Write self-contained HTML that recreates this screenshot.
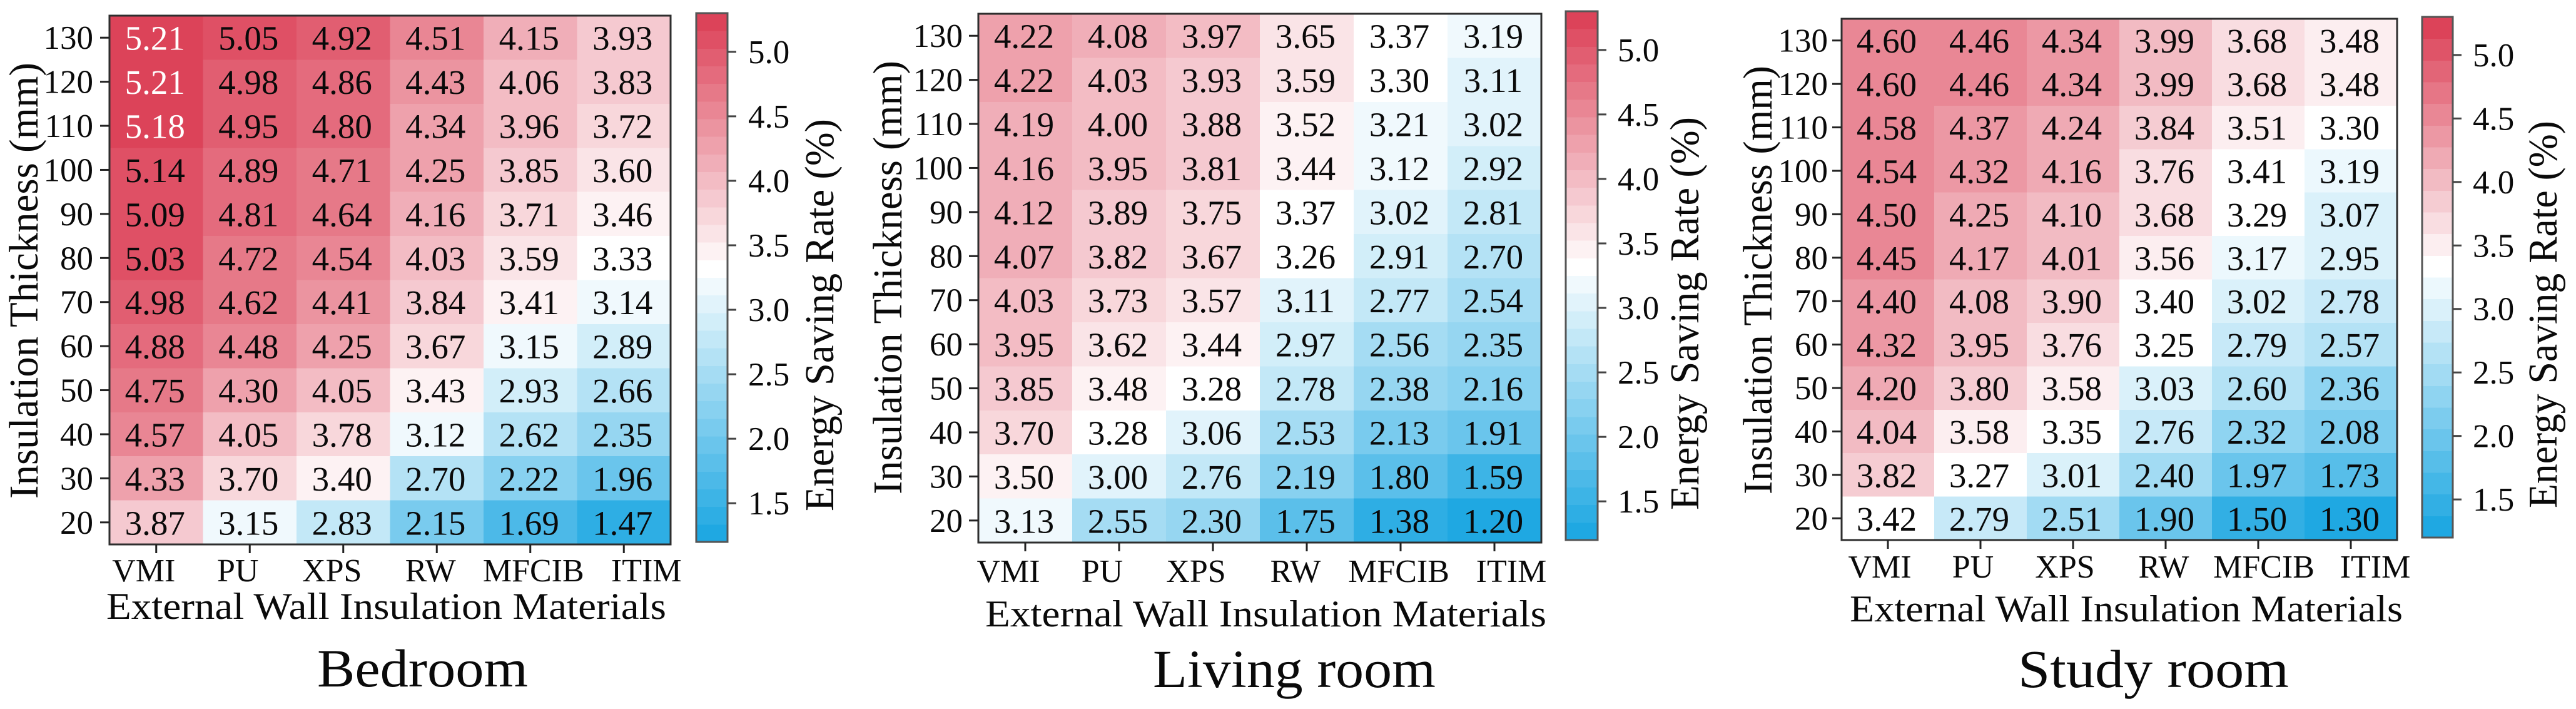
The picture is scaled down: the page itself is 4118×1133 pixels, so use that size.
<!DOCTYPE html>
<html lang="en">
<head>
<meta charset="utf-8">
<title>Energy saving rate heatmaps</title>
<style>
html,body{margin:0;padding:0;background:#fff;}
svg{display:block;}
text{font-family:"Liberation Serif","Times New Roman",serif;fill:#0a0a0a;}
</style>
</head>
<body>
<svg id="figure" xmlns="http://www.w3.org/2000/svg" width="4118" height="1133" viewBox="0 0 4118 1133">
  <rect x="0" y="0" width="4118" height="1133" fill="#fff"/>
  <g id="panel-bedroom"></g>
  <g id="panel-living"></g>
  <g id="panel-study"></g>
</svg>
<script>
const materials = ["VMI", "PU", "XPS", "RW", "MFCIB", "ITIM"];
const thicknesses = [130, 120, 110, 100, 90, 80, 70, 60, 50, 40, 30, 20];
const colorbarTicks = [5.0, 4.5, 4.0, 3.5, 3.0, 2.5, 2.0, 1.5];
const colorMin = 1.2;
const colorMax = 5.3;

const bedroomValues = [
  [5.21, 5.05, 4.92, 4.51, 4.15, 3.93],
  [5.21, 4.98, 4.86, 4.43, 4.06, 3.83],
  [5.18, 4.95, 4.80, 4.34, 3.96, 3.72],
  [5.14, 4.89, 4.71, 4.25, 3.85, 3.60],
  [5.09, 4.81, 4.64, 4.16, 3.71, 3.46],
  [5.03, 4.72, 4.54, 4.03, 3.59, 3.33],
  [4.98, 4.62, 4.41, 3.84, 3.41, 3.14],
  [4.88, 4.48, 4.25, 3.67, 3.15, 2.89],
  [4.75, 4.30, 4.05, 3.43, 2.93, 2.66],
  [4.57, 4.05, 3.78, 3.12, 2.62, 2.35],
  [4.33, 3.70, 3.40, 2.70, 2.22, 1.96],
  [3.87, 3.15, 2.83, 2.15, 1.69, 1.47]
];
const livingRoomValues = [
  [4.22, 4.08, 3.97, 3.65, 3.37, 3.19],
  [4.22, 4.03, 3.93, 3.59, 3.30, 3.11],
  [4.19, 4.00, 3.88, 3.52, 3.21, 3.02],
  [4.16, 3.95, 3.81, 3.44, 3.12, 2.92],
  [4.12, 3.89, 3.75, 3.37, 3.02, 2.81],
  [4.07, 3.82, 3.67, 3.26, 2.91, 2.70],
  [4.03, 3.73, 3.57, 3.11, 2.77, 2.54],
  [3.95, 3.62, 3.44, 2.97, 2.56, 2.35],
  [3.85, 3.48, 3.28, 2.78, 2.38, 2.16],
  [3.70, 3.28, 3.06, 2.53, 2.13, 1.91],
  [3.50, 3.00, 2.76, 2.19, 1.80, 1.59],
  [3.13, 2.55, 2.30, 1.75, 1.38, 1.20]
];
const studyRoomValues = [
  [4.60, 4.46, 4.34, 3.99, 3.68, 3.48],
  [4.60, 4.46, 4.34, 3.99, 3.68, 3.48],
  [4.58, 4.37, 4.24, 3.84, 3.51, 3.30],
  [4.54, 4.32, 4.16, 3.76, 3.41, 3.19],
  [4.50, 4.25, 4.10, 3.68, 3.29, 3.07],
  [4.45, 4.17, 4.01, 3.56, 3.17, 2.95],
  [4.40, 4.08, 3.90, 3.40, 3.02, 2.78],
  [4.32, 3.95, 3.76, 3.25, 2.79, 2.57],
  [4.20, 3.80, 3.58, 3.03, 2.60, 2.36],
  [4.04, 3.58, 3.35, 2.76, 2.32, 2.08],
  [3.82, 3.27, 3.01, 2.40, 1.97, 1.73],
  [3.42, 2.79, 2.51, 1.90, 1.50, 1.30]
];

const SVG_NS = "http://www.w3.org/2000/svg";
const RED = [220, 67, 89];
const BLUE = [31, 168, 226];
const WHITE_TEXT_ABOVE = 5.15;

function bandOf(v, bands) {
  const b = Math.floor((v - colorMin) / ((colorMax - colorMin) / bands));
  return Math.max(0, Math.min(bands - 1, b));
}
function bandColor(b, bands) {
  const k = b - bands / 2;
  let end = RED, f = 0;
  if (k > 0) { end = RED; f = k / (bands / 2 - 1); }
  if (k < 0) { end = BLUE; f = -k / (bands / 2); }
  const c = end.map(e => Math.round(255 + (e - 255) * f));
  return "rgb(" + c.join(",") + ")";
}
function make(parent, tag, attrs, content) {
  const el = document.createElementNS(SVG_NS, tag);
  Object.keys(attrs).forEach(k => el.setAttribute(k, attrs[k]));
  if (content !== undefined) el.textContent = content;
  parent.appendChild(el);
  return el;
}

function drawPanel(p) {
  const root = document.getElementById(p.id);
  const cellW = (p.right - p.left) / materials.length;
  const cellH = (p.bottom - p.top) / thicknesses.length;
  const xScale = i => p.left + cellW * (i + 0.5);
  const yScale = i => p.top + cellH * (i + 0.5);
  const cbScale = v => p.cbBottom - (v - colorMin) / (colorMax - colorMin) * (p.cbBottom - p.cbTop);

  p.values.forEach((row, r) => {
    row.forEach((v, c) => {
      const cell = make(root, "rect", {
        x: xScale(c) - cellW / 2, y: yScale(r) - cellH / 2,
        width: cellW + 0.5, height: cellH + 0.5,
        fill: bandColor(bandOf(v, p.bands), p.bands),
        "shape-rendering": "crispEdges"
      });
      
      
    });
  });
  p.values.forEach((row, r) => {
    row.forEach((v, c) => {
      const label = make(root, "text", {
        x: xScale(c) - 2, y: yScale(r) + 19.5,
        "text-anchor": "middle", "font-size": 55,
        style: v > WHITE_TEXT_ABOVE ? "fill:#fff" : "fill:#0a0a0a"
      }, v.toFixed(2));
      
      
    });
  });

  const frame = make(root, "rect", {
    x: p.left, y: p.top, width: p.right - p.left, height: p.bottom - p.top,
    fill: "none", stroke: "#2e2e2e", "stroke-width": 3
  });
  
  

  thicknesses.forEach((t, r) => {
    const tick = make(root, "line", {
      x1: p.left - 15, x2: p.left, y1: yScale(r), y2: yScale(r),
      stroke: "#222", "stroke-width": 3
    });
    
    
    const label = make(root, "text", {
      x: p.yLabelRight, y: yScale(r) + 18, "text-anchor": "end", "font-size": 53
    }, String(t));
    
    
  });

  materials.forEach((m, c) => {
    const tick = make(root, "line", {
      x1: xScale(c), x2: xScale(c), y1: p.bottom, y2: p.bottom + 14,
      stroke: "#222", "stroke-width": 3
    });
    
    
    const label = make(root, "text", {
      x: xScale(c) + p.xLabelNudge[c], y: p.xLabelBase, "text-anchor": "middle", "font-size": 52
    }, m);
    
    
  });

  const bandH = (p.cbBottom - p.cbTop) / p.bands;
  for (let b = 0; b < p.bands; b++) {
    const band = make(root, "rect", {
      x: p.cbLeft, y: p.cbBottom - bandH * (b + 1),
      width: p.cbRight - p.cbLeft, height: bandH + 0.5,
      fill: bandColor(b, p.bands), "shape-rendering": "crispEdges"
    });
    
    
  }
  const cbFrame = make(root, "rect", {
    x: p.cbLeft, y: p.cbTop, width: p.cbRight - p.cbLeft, height: p.cbBottom - p.cbTop,
    fill: "none", stroke: "#555", "stroke-width": 3
  });
  
  

  colorbarTicks.forEach(v => {
    const tick = make(root, "line", {
      x1: p.cbRight, x2: p.cbRight + 14, y1: cbScale(v), y2: cbScale(v),
      stroke: "#444", "stroke-width": 3
    });
    
    
    const label = make(root, "text", {
      x: p.cbLabelLeft, y: cbScale(v) + 18, "font-size": 53
    }, v.toFixed(1));
    
    
  });

  const yTitle = make(root, "text", {
    x: 0, y: 0, "font-size": 66, textLength: p.yTitle[2] - p.yTitle[1],
    lengthAdjust: "spacingAndGlyphs",
    transform: "translate(" + p.yTitle[0] + " " + p.yTitle[2] + ") rotate(-90)"
  }, "Insulation Thickness (mm)");
  
  

  const cbTitle = make(root, "text", {
    x: 0, y: 0, "font-size": 66, textLength: p.cbTitle[2] - p.cbTitle[1],
    lengthAdjust: "spacingAndGlyphs",
    transform: "translate(" + p.cbTitle[0] + " " + p.cbTitle[2] + ") rotate(-90)"
  }, "Energy Saving Rate (%)");
  
  

  const xTitle = make(root, "text", {
    x: p.xTitle[0], y: p.xTitle[2], "font-size": 60, textLength: p.xTitle[1] - p.xTitle[0],
    lengthAdjust: "spacingAndGlyphs"
  }, "External Wall Insulation Materials");
  
  

  const room = make(root, "text", {
    x: p.room[0], y: p.room[2], "font-size": 86, textLength: p.room[1] - p.room[0],
    lengthAdjust: "spacingAndGlyphs"
  }, p.roomName);
  
  
}

drawPanel({
  id: "panel-bedroom", roomName: "Bedroom", values: bedroomValues, bands: 30,
  left: 175, right: 1072, top: 25, bottom: 870,
  yLabelRight: 149, xLabelBase: 929, xLabelNudge: [-20, -19, -18, -10, 5, 36],
  cbLeft: 1113, cbRight: 1163, cbTop: 21, cbBottom: 866, cbLabelLeft: 1196,
  yTitle: [60, 100, 797], cbTitle: [1332, 190, 817],
  xTitle: [170, 1065, 989], room: [507, 844, 1097]
});
drawPanel({
  id: "panel-living", roomName: "Living room", values: livingRoomValues, bands: 30,
  left: 1564, right: 2464, top: 22, bottom: 867,
  yLabelRight: 1539, xLabelBase: 930, xLabelNudge: [-27, -27, -27, -18, -3, 27],
  cbLeft: 2503, cbRight: 2554, cbTop: 18, cbBottom: 863, cbLabelLeft: 2586,
  yTitle: [1441, 97, 790], cbTitle: [2715, 187, 815],
  xTitle: [1575, 2472, 1001], room: [1843, 2295, 1098]
});
drawPanel({
  id: "panel-study", roomName: "Study room", values: studyRoomValues, bands: 24,
  left: 2944, right: 3832, top: 30, bottom: 863,
  yLabelRight: 2922, xLabelBase: 923, xLabelNudge: [-13, -12, -13, -3, 9, 39],
  cbLeft: 3872, cbRight: 3921, cbTop: 27, cbBottom: 859, cbLabelLeft: 3953,
  yTitle: [2832, 105, 790], cbTitle: [4087, 193, 812],
  xTitle: [2957, 3841, 993], room: [3226, 3659, 1098]
});
</script>
</body>
</html>
